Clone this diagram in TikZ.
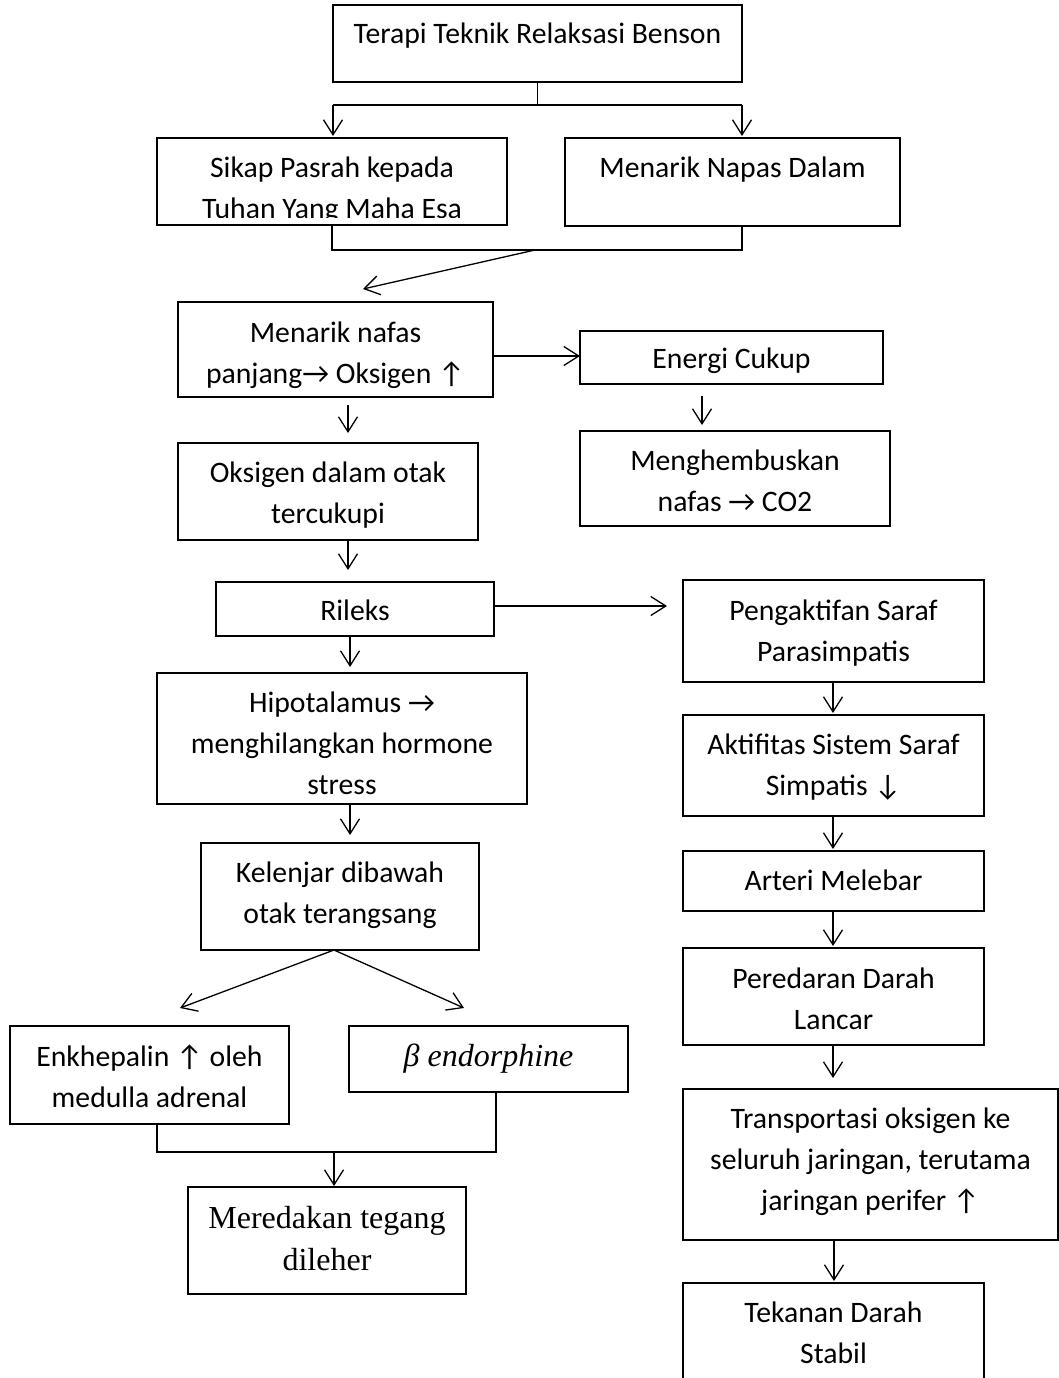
\documentclass[tikz,border=0pt]{standalone}
\usepackage{fontspec}
\setmainfont{Carlito}
\newfontfamily\serifface{Liberation Serif}
\usetikzlibrary{arrows.meta,calc}
\tikzset{
  box/.style={draw, line width=1.3pt, inner sep=0pt, outer sep=0pt, rectangle},
  txt/.style={align=center, inner sep=0pt, outer sep=0pt, anchor=north, font=\fontsize{29.7}{41}\selectfont},
  stxt/.style={align=center, inner sep=0pt, outer sep=0pt, anchor=north, font=\serifface\fontsize{32}{42}\selectfont},
  conn/.style={line width=1.3pt},
  arr/.style={line width=1.3pt, -{Straight Barb[length=15pt,width=19pt]}},
}
\newcommand\mkbox[5]{\node[box, minimum width={(#4)-(#2)}, minimum height={(#5)-(#3)}] (#1) at ({((#2)+(#4))/2},{((#3)+(#5))/2}) {};}
\begin{document}
\begin{tikzpicture}[x=1pt,y=-1pt]
\useasboundingbox (0,0) rectangle (1059,1378);
\clip (0,0) rectangle (1059,1378);
% boxes
\mkbox{A}{333}{5}{742}{82}
\mkbox{B}{157}{138}{507}{225}
\mkbox{C}{565}{138}{900}{226}
\mkbox{D}{178}{302}{493}{397}
\mkbox{E}{580}{331}{883}{384}
\mkbox{F}{178}{443}{478}{540}
\mkbox{G}{580}{431}{890}{526}
\mkbox{H}{216}{582}{494}{636}
\mkbox{I}{683}{580}{984}{682}
\mkbox{J}{157}{673}{527}{804}
\mkbox{K}{201}{843}{479}{950}
\mkbox{L}{10}{1026}{289}{1124}
\mkbox{M}{349}{1026}{628}{1092}
\mkbox{N}{188}{1187}{466}{1294}
\mkbox{O}{683}{715}{984}{816}
\mkbox{P}{683}{851}{984}{911}
\mkbox{Q}{683}{948}{984}{1045}
\mkbox{R}{683}{1089}{1058}{1240}
\mkbox{S}{683}{1283}{984}{1400}
% texts (y = baseline - 28.7)
\node[txt] (tA) at (537.5,15.3) {\strut Terapi Teknik Relaksasi Benson};
\begin{scope}
\clip (157,138) rectangle (507,217);
\node[txt] (tB) at (332,148.3) {\strut Sikap Pasrah kepada\\Tuhan Yang Maha Esa};
\end{scope}
\node[txt] (tC) at (732.5,148.3) {\strut Menarik Napas Dalam};
\node[txt] (tD) at (335.5,313.3) {\strut Menarik nafas\\panjang→ Oksigen ↑};
\node[txt] (tE) at (731.5,339.3) {\strut Energi Cukup};
\node[txt] (tF) at (328,453.3) {\strut Oksigen dalam otak\\tercukupi};
\node[txt] (tG) at (735,441.3) {\strut Menghembuskan\\nafas → CO2};
\node[txt] (tH) at (355,591.3) {\strut Rileks};
\node[txt] (tI) at (833.5,591.3) {\strut Pengaktifan Saraf\\Parasimpatis};
\node[txt] (tJ) at (342,683.3) {\strut Hipotalamus →\\menghilangkan hormone\\stress};
\node[txt] (tK) at (340,853.3) {\strut Kelenjar dibawah\\otak terangsang};
\node[txt] (tL) at (149.5,1037.3) {\strut Enkhepalin ↑ oleh\\medulla adrenal};
\node[stxt, font=\serifface\itshape\fontsize{32}{42}\selectfont] (tM) at (488.5,1036.6) {\strut β endorphine};
\node[stxt] (tN) at (327,1198.6) {\strut Meredakan tegang\\dileher};
\node[txt] (tO) at (833.5,725.3) {\strut Aktifitas Sistem Saraf\\Simpatis ↓};
\node[txt] (tP) at (833.5,861.3) {\strut Arteri Melebar};
\node[txt] (tQ) at (833.5,959.3) {\strut Peredaran Darah\\Lancar};
\node[txt] (tR) at (870.5,1099.3) {\strut Transportasi oksigen ke\\seluruh jaringan, terutama\\jaringan perifer ↑};
\node[txt] (tS) at (833.5,1293.3) {\strut Tekanan Darah\\Stabil};
% connectors top
\coordinate (j1) at (537.5,105);
\draw[conn] (A.south) -- (j1);
\draw[conn] (A.south west |- j1) -- (A.south east |- j1);
\draw[arr, shorten >=2pt] (A.south west |- j1) -- (A.south west |- B.north);
\draw[arr, shorten >=2pt] (A.south east |- j1) -- (A.south east |- C.north);
\coordinate (j2) at (535,250);
\draw[conn] (B.south) |- (j2) -| (A.south east |- C.south);
\draw[arr] (j2) -- ($(D.north)+(27.5,-13)$);
% left column
\draw[arr] (D.east |- 0,356) -- (E.west |- 0,356);
\draw[arr, shorten <=12pt, shorten >=6pt] (702,0 |- E.south) -- (702,0 |- G.north);
\draw[arr, shorten <=8pt, shorten >=10pt] (348,0 |- D.south) -- (348,0 |- F.north);
\draw[arr, shorten >=12pt] (348,0 |- F.south) -- (348,0 |- H.north);
\draw[arr, shorten >=16pt] (H.east |- 0,606) -- (I.west |- 0,606);
\draw[arr, shorten >=6pt] (350,0 |- H.south) -- (350,0 |- J.north);
\draw[arr, shorten >=8pt] (350,0 |- J.south) -- (350,0 |- K.north);
\coordinate (k0) at (334,950);
\draw[arr] (k0) -- ($(L.north)+(30.5,-18)$);
\draw[arr] (k0) -- ($(M.north)+(-24.5,-18)$);
\coordinate (j3) at (334,1152);
\draw[conn] (157,0 |- L.south) |- (j3) -| (496,0 |- M.south);
\draw[arr, shorten >=1pt] (j3) -- (334,0 |- N.north);
% right column
\draw[arr, shorten >=2pt] (833,0 |- I.south) -- (833,0 |- O.north);
\draw[arr, shorten >=2pt] (833,0 |- O.south) -- (833,0 |- P.north);
\draw[arr, shorten >=2pt] (833,0 |- P.south) -- (833,0 |- Q.north);
\draw[arr, shorten >=11pt] (833,0 |- Q.south) -- (833,0 |- R.north);
\draw[arr, shorten >=2pt] (834,0 |- R.south) -- (834,0 |- S.north);
\end{tikzpicture}
\end{document}
